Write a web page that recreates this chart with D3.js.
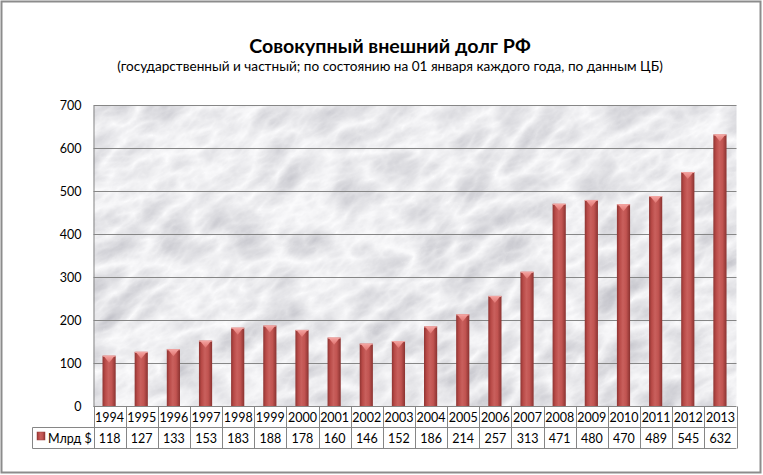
<!DOCTYPE html>
<html><head><meta charset="utf-8">
<script src="https://cdn.jsdelivr.net/npm/d3@7/dist/d3.min.js"></script>
<style>
body{margin:0;background:#fff;}
svg{display:block;font-family:Lato, "Open Sans", sans-serif;}
</style></head>
<body>
<svg id="chart" width="763" height="475"></svg>
<script>
const years = ["1994","1995","1996","1997","1998","1999","2000","2001","2002","2003","2004","2005","2006","2007","2008","2009","2010","2011","2012","2013"];
const debt = [118,127,133,153,183,188,178,160,146,152,186,214,257,313,471,480,470,489,545,632];
const yTicks = [0,100,200,300,400,500,600,700];
const seriesName = "Млрд $";
const title = "Совокупный внешний долг РФ";
const subtitle = "(государственный и частный; по состоянию на 01 января каждого года, по данным ЦБ)";

const svg = d3.select("#chart");
const W = 763, H = 475;
const L = 93.5, R = 736.5, T = 105.3, B = 406.5;

const defs = svg.append("defs");
const f = defs.append("filter").attr("id","marble").attr("x",0).attr("y",0).attr("width",1).attr("height",1)
  .attr("filterUnits","objectBoundingBox").attr("primitiveUnits","userSpaceOnUse");
f.append("feTurbulence").attr("type","turbulence").attr("baseFrequency","0.018 0.034").attr("numOctaves",6).attr("seed",11).attr("result","t");
f.append("feColorMatrix").attr("in","t").attr("type","matrix")
  .attr("values","-0.5 0 0 0 0.99  -0.5 0 0 0 0.99  -0.46 0 0 0 1.0  0 0 0 0 1");
defs.append("clipPath").attr("id","plotClip").append("rect")
  .attr("x",L).attr("y",T).attr("width",R-L).attr("height",B-T);

const bg = defs.append("linearGradient").attr("id","barGrad").attr("x1","0").attr("x2","1").attr("y1","0").attr("y2","0");
[["0%","#8e3432"],["20%","#b84a47"],["45%","#c9605d"],["70%","#c15451"],["100%","#8a3230"]].forEach(s=>bg.append("stop").attr("offset",s[0]).attr("stop-color",s[1]));
const cg = defs.append("linearGradient").attr("id","capGrad").attr("x1","0").attr("x2","0").attr("y1","0").attr("y2","1");
[["0%","#f4a3a0"],["100%","#e07470"]].forEach(s=>cg.append("stop").attr("offset",s[0]).attr("stop-color",s[1]));

// outer border
svg.append("rect").attr("x",1.5).attr("y",1.5).attr("width",W-4).attr("height",H-4)
  .attr("fill","#fff").attr("stroke","#8c8c8c").attr("stroke-width",2);

// titles
svg.append("text").attr("x",390).attr("y",53).attr("text-anchor","middle")
  .attr("font-size",19.6).attr("font-weight","bold").attr("fill","#000").text(title);
svg.append("text").attr("x",390).attr("y",71).attr("text-anchor","middle")
  .attr("font-size",13.6).attr("fill","#000").text(subtitle);

// plot background (marble)
svg.append("g").attr("clip-path","url(#plotClip)")
  .append("g").attr("transform",`translate(${(L+R)/2},${(T+B)/2}) rotate(-30)`)
  .append("rect").attr("x",-450).attr("y",-380).attr("width",900).attr("height",760)
  .attr("fill","#eee").attr("filter","url(#marble)");

const x = d3.scaleBand().domain(years).range([L,R]).padding(0);
const y = d3.scaleLinear().domain([0,700]).range([B,T]);

// gridlines
svg.append("g").selectAll("line").data(yTicks.filter(d=>d>0)).join("line")
  .attr("x1",L).attr("x2",R).attr("y1",d=>Math.round(y(d))+0.5).attr("y2",d=>Math.round(y(d))+0.5)
  .attr("stroke","#868686").attr("stroke-width",1);

// y axis
const yAxis = d3.axisLeft(y).tickValues(yTicks).tickSize(0).tickPadding(12);
const ga = svg.append("g").attr("transform",`translate(${L},0)`).call(yAxis);
ga.select(".domain").attr("stroke","#868686");
ga.selectAll("text").attr("font-size",12.5).attr("fill","#000").attr("font-family","Lato, sans-serif");

// bars
const bw = x.bandwidth();
const barW = bw*0.41, off = bw*0.28;
const bars = svg.append("g").selectAll("g").data(debt).join("g");
bars.append("rect").attr("x",(d,i)=>x(years[i])+off).attr("y",d=>y(d))
  .attr("width",barW).attr("height",d=>B-y(d)).attr("fill","url(#barGrad)");
bars.append("path").attr("d",(d,i)=>{
  const x0=x(years[i])+off, t=y(d);
  return `M${x0+1},${t} L${x0+barW-1},${t} L${x0+barW/2},${t+7} Z`;
}).attr("fill","url(#capGrad)");
bars.append("line").attr("x1",(d,i)=>x(years[i])+off).attr("x2",(d,i)=>x(years[i])+off+barW)
  .attr("y1",d=>y(d)+0.5).attr("y2",d=>y(d)+0.5).attr("stroke","#f2a4a1").attr("stroke-width",1);

// data table
const r0 = 406.5, r1 = 427.5, r2 = 448.5;
const tg = svg.append("g").attr("stroke","#868686").attr("stroke-width",1).attr("fill","none");
tg.append("line").attr("x1",L).attr("x2",R).attr("y1",r0).attr("y2",r0);
tg.append("line").attr("x1",32.5).attr("x2",R).attr("y1",r1).attr("y2",r1);
tg.append("line").attr("x1",32.5).attr("x2",R).attr("y1",r2).attr("y2",r2);
tg.append("line").attr("x1",32.5).attr("x2",32.5).attr("y1",r1).attr("y2",r2);
tg.selectAll(".v").data(years.concat(["end"])).join("line").attr("class","v")
  .attr("x1",(d,i)=>Math.round(L+i*bw)+0.5).attr("x2",(d,i)=>Math.round(L+i*bw)+0.5)
  .attr("y1",r0).attr("y2",r2);

svg.append("g").selectAll("text").data(years).join("text")
  .attr("x",d=>x(d)+bw/2).attr("y",r0+15).attr("text-anchor","middle")
  .attr("font-size",12.5).attr("fill","#000").text(d=>d);
svg.append("g").selectAll("text").data(debt).join("text")
  .attr("x",(d,i)=>x(years[i])+bw/2).attr("y",r1+15).attr("text-anchor","middle")
  .attr("font-size",12.5).attr("fill","#000").text(d=>d);

// legend key in table
svg.append("rect").attr("x",37).attr("y",432).attr("width",8).attr("height",8).attr("fill","url(#barGrad)").attr("stroke","#9a3d3a").attr("stroke-width",0.5);
svg.append("text").attr("x",48).attr("y",r1+15).attr("font-size",12.5).attr("fill","#000").text(seriesName);
</script>
</body></html>
